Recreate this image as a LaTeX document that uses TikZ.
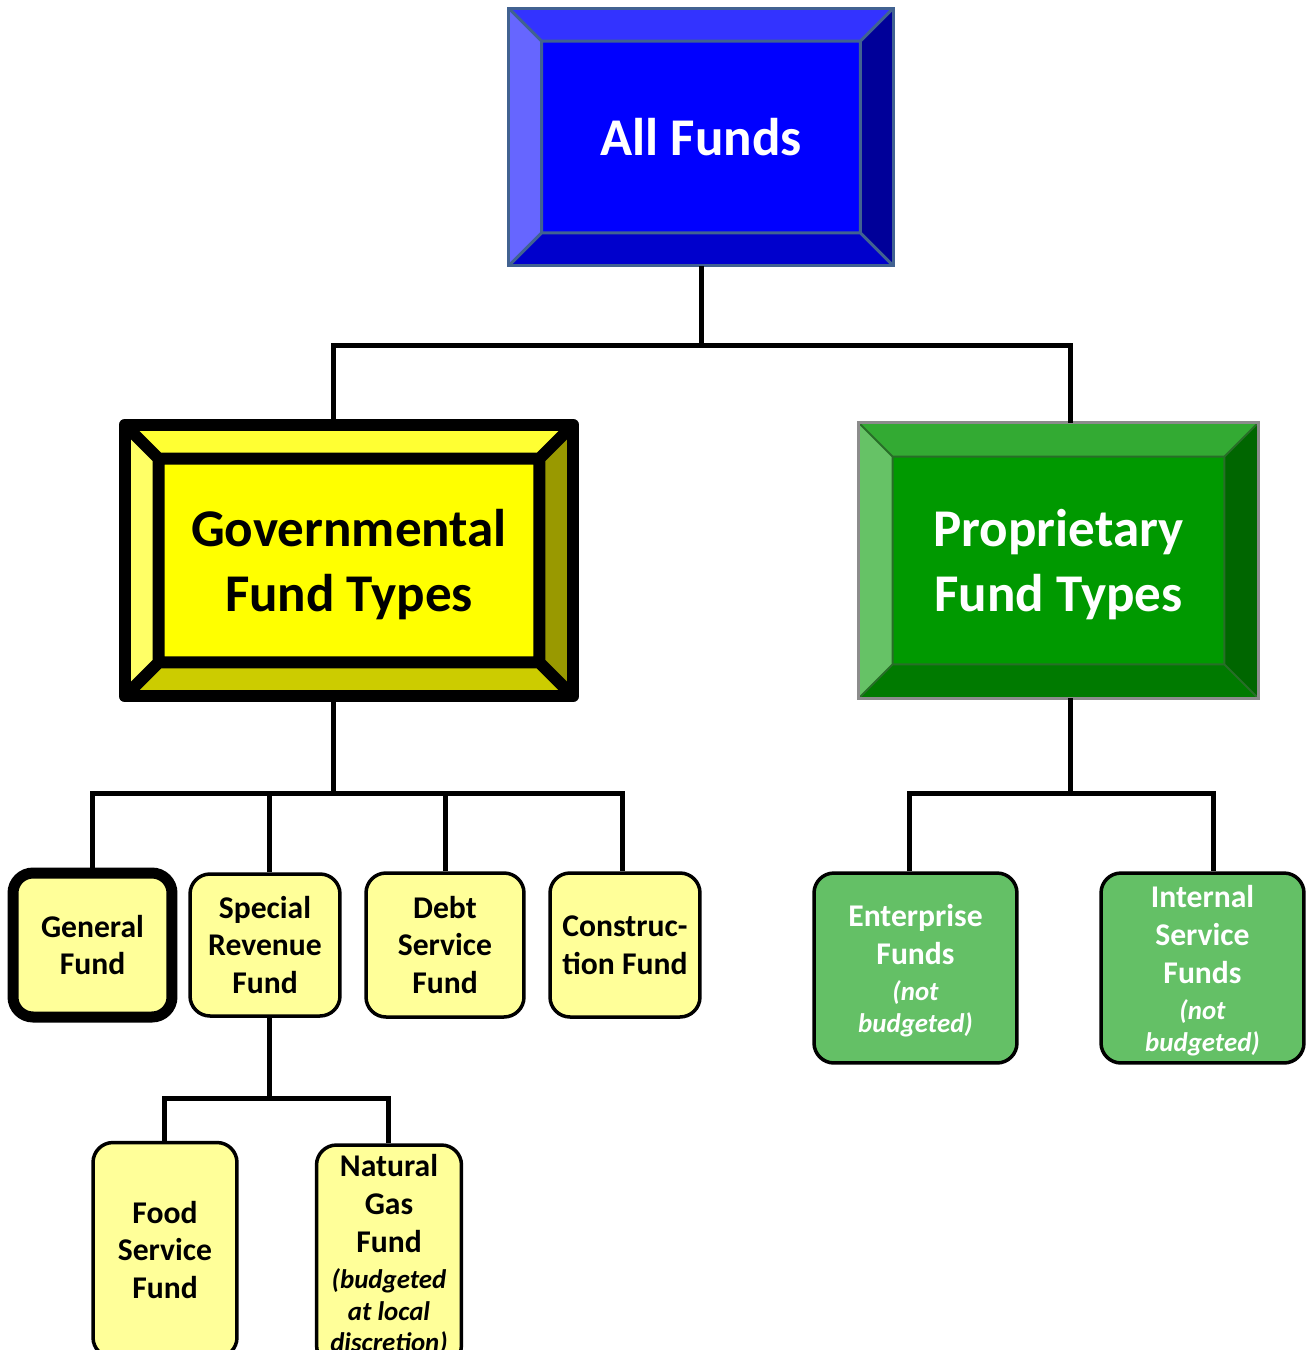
\documentclass[tikz,border=0pt]{standalone}
\usepackage{fontspec}
\setmainfont{Carlito}
\usetikzlibrary{calc}

\definecolor{blueface}{RGB}{0,0,255}
\definecolor{bluetop}{RGB}{51,51,255}
\definecolor{blueleft}{RGB}{102,102,255}
\definecolor{blueright}{RGB}{0,0,153}
\definecolor{bluebottom}{RGB}{0,0,204}
\definecolor{blueedge}{RGB}{65,98,145}
\definecolor{yellowface}{RGB}{255,255,0}
\definecolor{yellowtop}{RGB}{255,255,51}
\definecolor{yellowleft}{RGB}{255,255,102}
\definecolor{yellowright}{RGB}{153,153,0}
\definecolor{yellowbottom}{RGB}{204,204,0}
\definecolor{greenface}{RGB}{0,153,0}
\definecolor{greentop}{RGB}{51,170,51}
\definecolor{greenleft}{RGB}{102,194,102}
\definecolor{greenright}{RGB}{0,102,0}
\definecolor{greenbottom}{RGB}{0,122,0}
\definecolor{greenedge}{RGB}{40,110,40}
\definecolor{greenrim}{RGB}{140,140,140}
\definecolor{paleyellow}{RGB}{255,255,153}
\definecolor{palegreen}{RGB}{100,192,102}

\newcommand{\bigtxt}{\fontsize{30.2}{37}\selectfont\bfseries}
\newcommand{\fundtxt}{\fontsize{18}{21.6}\selectfont\bfseries}
\newcommand{\notetxt}{\fontsize{15.3}{18}\selectfont\bfseries\itshape}

% beveled frame round a node: #1 node, #2 depth, #3-#6 top/left/right/bottom, #7 edges
\newcommand{\bevelbox}[7]{%
  \path (#1.north west) ++(#2,#2) coordinate (#1-a)
        (#1.north east) ++(-#2,#2) coordinate (#1-b)
        (#1.south east) ++(-#2,-#2) coordinate (#1-c)
        (#1.south west) ++(#2,-#2) coordinate (#1-d);
  \fill[#3] (#1.north west) -- (#1.north east) -- (#1-b) -- (#1-a) -- cycle;
  \fill[#4] (#1.north west) -- (#1-a) -- (#1-d) -- (#1.south west) -- cycle;
  \fill[#5] (#1.north east) -- (#1-b) -- (#1-c) -- (#1.south east) -- cycle;
  \fill[#6] (#1.south west) -- (#1-d) -- (#1-c) -- (#1.south east) -- cycle;
  \draw[#7] (#1-a) rectangle (#1-c)
    (#1.north west) -- (#1-a) (#1.north east) -- (#1-b)
    (#1.south east) -- (#1-c) (#1.south west) -- (#1-d);
}

\tikzset{
  typebox/.style={rectangle,inner sep=0pt,align=center,font=\bigtxt,text depth=0pt},
  fundbox/.style={rectangle,rounded corners=0.4cm,draw,line width=0.07cm,
    inner sep=0pt,align=center,font=\fundtxt},
  govfund/.style={fundbox,fill=paleyellow},
  propfund/.style={fundbox,fill=palegreen,text=white,text depth=0pt},
  conn/.style={line width=0.1cm}
}

\begin{document}
\begin{tikzpicture}[x=0.02cm,y=-0.02cm]
\useasboundingbox (0,0) rectangle (1306,1350);

% top level
\node[typebox,fill=blueface,text=white,minimum width=7.68cm,minimum height=5.14cm]
  (all) at (701,137) {All Funds};
\bevelbox{all}{33}{bluetop}{blueleft}{blueright}{bluebottom}{blueedge,line width=0.06cm}
\draw[blueedge,line width=0.06cm] (all.north west) rectangle (all.south east);

% fund types
\node[typebox,fill=yellowface,minimum width=8.96cm,minimum height=5.42cm]
  (gov) at (349,560.5) {Governmental\\Fund Types};
\bevelbox{gov}{34}{yellowtop}{yellowleft}{yellowright}{yellowbottom}{line width=0.24cm,line join=round}
\draw[line width=0.24cm,line join=round] (gov.north west) rectangle (gov.south east);

\node[typebox,fill=greenface,text=white,minimum width=7.98cm,minimum height=5.5cm]
  (prop) at (1058.5,560.5) {Proprietary\\Fund Types};
\bevelbox{prop}{34}{greentop}{greenleft}{greenright}{greenbottom}{greenedge,line width=0.04cm}
\draw[greenrim,line width=0.05cm] (prop.north west) rectangle (prop.south east);

% governmental funds
\node[govfund,line width=0.22cm,minimum width=3.18cm,minimum height=2.88cm]
  (gen) at (92.5,945) {General\\Fund};
\node[govfund,minimum width=3cm,minimum height=2.84cm]
  (spec) at (265,945) {Special\\Revenue\\Fund};
\node[govfund,minimum width=3.16cm,minimum height=2.88cm]
  (debt) at (445,945) {Debt\\Service\\Fund};
\node[govfund,minimum width=3cm,minimum height=2.88cm]
  (cons) at (625,945) {Construc-\\tion Fund};

% special revenue funds
\node[govfund,minimum width=2.88cm,minimum height=4.3cm]
  (food) at (165,1250) {Food\\Service\\Fund};
\node[govfund,minimum width=2.9cm,minimum height=4.4cm]
  (gas) at (389,1255) {Natural\\Gas\\Fund\\[-1pt]{\notetxt (budgeted}\\[-3.5pt]{\notetxt at local}\\[-3.5pt]{\notetxt discretion)}};

% proprietary funds
\node[propfund,minimum width=4.06cm,minimum height=3.8cm]
  (ent) at (915.5,968) {Enterprise\\Funds\\[-1pt]{\notetxt (not}\\[-3.5pt]{\notetxt budgeted)}};
\node[propfund,minimum width=4.06cm,minimum height=3.8cm]
  (intl) at (1202.5,968) {Internal\\Service\\Funds\\[-1pt]{\notetxt (not}\\[-3.5pt]{\notetxt budgeted)}};

% connectors
\draw[conn] (all.south) -- ++(0,80) coordinate (j1);
\draw[conn] ([xshift=-0.32cm]gov.north) |- (j1) -| ([xshift=0.23cm]prop.north);
\draw[conn] ([xshift=-0.32cm]gov.south) -- ++(0,97) coordinate (j2);
\draw[conn] (gen.north) |- (j2) -| ([xshift=-0.06cm]cons.north);
\draw[conn] ([xshift=0.08cm]spec.north) -- ([xshift=0.08cm]spec.north |- j2);
\draw[conn] (debt.north) -- (debt.north |- j2);
\draw[conn] ([xshift=0.23cm]prop.south) -- ++(0,95) coordinate (j3);
\draw[conn] ([xshift=-0.13cm]ent.north) |- (j3) -| ([xshift=0.21cm]intl.north);
\draw[conn] ([xshift=0.08cm]spec.south) -- ++(0,81) coordinate (j4);
\draw[conn] ([xshift=-0.02cm]food.north) |- (j4) -| ([xshift=-0.02cm]gas.north);
\end{tikzpicture}
\end{document}
